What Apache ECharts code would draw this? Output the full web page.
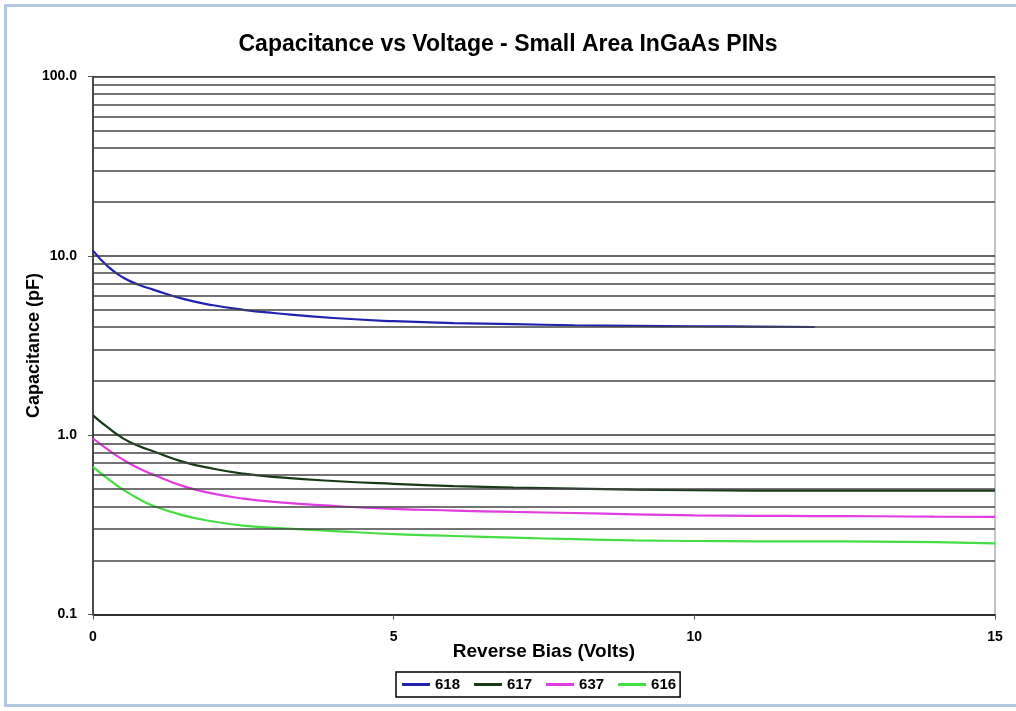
<!DOCTYPE html>
<html>
<head>
<meta charset="utf-8">
<script src="https://cdn.jsdelivr.net/npm/echarts@6/dist/echarts.min.js"></script>
<style>html,body{margin:0;padding:0;background:#fff;}#c{width:1016px;height:711px;}</style>
</head>
<body>
<div id="c"></div>
<script>
const voltages = [0, 0.25, 0.5, 0.75, 1, 1.5, 2, 2.5, 3, 4, 5, 6, 7, 8, 9, 10, 11, 12, 13, 14, 15];
const s618 = [10.7, 8.7, 7.57, 6.92, 6.48, 5.75, 5.3, 5.0, 4.8, 4.5, 4.32, 4.22, 4.16, 4.10, 4.07, 4.05, 4.03, 4.01];
const s617 = [1.29, 1.10, 0.96, 0.872, 0.813, 0.71, 0.65, 0.61, 0.585, 0.555, 0.535, 0.52, 0.51, 0.503, 0.497, 0.493, 0.491, 0.49, 0.49, 0.49, 0.49];
const s637 = [0.958, 0.83, 0.73, 0.656, 0.603, 0.52, 0.472, 0.443, 0.425, 0.403, 0.388, 0.38, 0.373, 0.368, 0.362, 0.357, 0.355, 0.354, 0.353, 0.351, 0.35];
const s616 = [0.666, 0.57, 0.497, 0.443, 0.404, 0.357, 0.33, 0.313, 0.304, 0.292, 0.281, 0.274, 0.268, 0.263, 0.259, 0.257, 0.256, 0.256, 0.255, 0.253, 0.249];
const seriesNames = ['618', '617', '637', '616'];
const minorGridValues = [0.2,0.3,0.4,0.5,0.6,0.7,0.8,0.9,2,3,4,5,6,7,8,9,20,30,40,50,60,70,80,90];

const FONT = '"Liberation Sans", Arial, sans-serif';
const colors = ['#2222b0', '#173a17', '#e03ce0', '#44dd44'];
const dataSets = [s618, s617, s637, s616];

function pairs(vals) { return vals.map((v, i) => [voltages[i], v]); }

const series = dataSets.map((d, i) => ({
  name: seriesNames[i],
  type: 'line',
  data: pairs(d),
  smooth: 0.5,
  showSymbol: false,
  symbol: 'none',
  z: 3,
  lineStyle: { color: colors[i], width: 2.2 },
  itemStyle: { color: colors[i] }
}));
series.push({
  name: 'grid',
  type: 'line',
  data: [],
  z: 1,
  silent: true,
  markLine: {
    silent: true,
    symbol: 'none',
    animation: false,
    label: { show: false },
    lineStyle: { color: '#444', width: 1.5, type: 'solid' },
    data: minorGridValues.map(v => ({ yAxis: v }))
  }
});

const chart = echarts.init(document.getElementById('c'));
chart.setOption({
  animation: false,
  backgroundColor: '#fff',
  textStyle: { fontFamily: FONT },
  graphic: [{
    type: 'rect',
    shape: { x: 5.5, y: 5.5, width: 1030, height: 700 },
    style: { fill: 'none', stroke: '#b3c7df', lineWidth: 3 },
    silent: true
  }],
  title: {
    text: 'Capacitance vs Voltage - Small Area InGaAs PINs',
    left: 'center',
    top: 28,
    textStyle: { fontFamily: FONT, fontSize: 23, fontWeight: 'bold', color: '#000' }
  },
  grid: {
    left: 93, right: 21, top: 76.5, bottom: 96.5,
    show: true, borderColor: '#888', borderWidth: 1, backgroundColor: 'transparent'
  },
  legend: {
    data: seriesNames,
    left: 396,
    top: 672,
    padding: [5, 4, 5, 6],
    itemGap: 14,
    itemWidth: 28,
    itemHeight: 3,
    icon: 'rect',
    borderColor: '#000',
    borderWidth: 1.5,
    textStyle: { fontFamily: FONT, fontSize: 15, fontWeight: 'bold', color: '#000' }
  },
  xAxis: {
    type: 'value',
    min: 0, max: 15, interval: 5,
    name: 'Reverse Bias (Volts)',
    nameLocation: 'middle',
    nameGap: 28,
    nameMoveOverlap: false,
    nameTextStyle: { fontFamily: FONT, fontSize: 19, fontWeight: 'bold', color: '#000' },
    axisLine: { show: true, lineStyle: { color: '#222', width: 1.5 } },
    axisTick: { show: true, length: 5, lineStyle: { color: '#555' } },
    axisLabel: { margin: 16, fontFamily: FONT, fontSize: 14, fontWeight: 'bold', color: '#000' },
    splitLine: { show: false }
  },
  yAxis: {
    type: 'log',
    logBase: 10,
    min: 0.1, max: 100,
    name: 'Capacitance (pF)',
    nameLocation: 'middle',
    nameGap: 50,
    nameMoveOverlap: false,
    nameRotate: 90,
    nameTextStyle: { fontFamily: FONT, fontSize: 18, fontWeight: 'bold', color: '#000' },
    axisLine: { show: true, lineStyle: { color: '#222', width: 1.5 } },
    axisTick: { show: true, length: 5, lineStyle: { color: '#555' } },
    axisLabel: {
      margin: 16, fontFamily: FONT, fontSize: 14, fontWeight: 'bold', color: '#000',
      formatter: v => Number(v).toFixed(1)
    },
    splitLine: { show: true, lineStyle: { color: '#333', width: 1.5 } }
  },
  series: series
});
</script>
</body>
</html>
